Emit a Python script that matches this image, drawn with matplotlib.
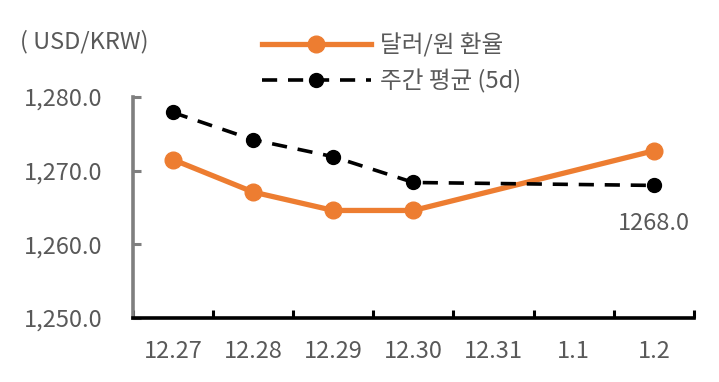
import numpy as np
import matplotlib.pyplot as plt

plt.rcParams['font.family'] = ['Noto Sans CJK KR', 'DejaVu Sans']
plt.rcParams['font.weight'] = 'light'

# 데이터
dates = ['12.27', '12.28', '12.29', '12.30', '12.31', '1.1', '1.2']
fx_rate = [1271.5, 1267.1, 1264.6, 1264.6, None, None, 1272.7]
avg_5d = [1277.9, 1274.2, 1271.9, 1268.4, None, None, 1268.0]
last_label = '1268.0'

text_color = '#595959'
orange = '#ED7D31'
fs = 17


def valid(vals):
    idx = [i for i, v in enumerate(vals) if v is not None]
    return np.array(idx), np.array([vals[i] for i in idx])


fig = plt.figure(figsize=(7.19, 3.82), dpi=100)
ax = fig.add_axes([0.185, 0.1675, 0.78, 0.5785])

x1, y1 = valid(fx_rate)
x2, y2 = valid(avg_5d)
ax.plot(x1, y1, color=orange, lw=3.8, marker='o', markersize=12,
        label='달러/원 환율', zorder=3)
ax.plot(x2, y2, color='black', lw=2.6, linestyle=(0, (4.2, 3.0)), marker='o',
        markersize=10, label='주간 평균 (5d)', zorder=4)

ax.text(x2[-1], y2[-1] - 3.6, last_label, ha='center', va='top',
        fontsize=fs, color=text_color)

ax.set_xlim(-0.5, 6.5)
ax.set_ylim(1250, 1280)
ax.set_yticks([1250, 1260, 1270, 1280])
ax.set_yticklabels(['{:,.1f}'.format(v) for v in [1250, 1260, 1270, 1280]])
ax.set_xticks(range(len(dates)))
ax.set_xticklabels(dates)
ax.set_xticks(np.arange(-0.5, 7, 1), minor=True)

ax.tick_params(axis='x', which='major', length=0, pad=16, labelsize=fs,
               labelcolor=text_color)
ax.tick_params(axis='x', which='minor', direction='in', length=6, width=2.2,
               color='black')
ax.tick_params(axis='y', direction='in', length=6, width=2.2, color='#7F7F7F',
               pad=22, labelsize=fs, labelcolor=text_color)

for s in ['top', 'right']:
    ax.spines[s].set_visible(False)
ax.spines['bottom'].set_color('black')
ax.spines['bottom'].set_linewidth(2.6)
ax.spines['left'].set_color('#7F7F7F')
ax.spines['left'].set_linewidth(2.6)

fig.text(0.028, 0.89, '( USD/KRW)', fontsize=fs, color=text_color, va='center')

leg = fig.legend(loc='center left', bbox_to_anchor=(0.335, 0.835),
                 frameon=False, fontsize=fs, handlelength=4.6,
                 handletextpad=0.4, labelspacing=0.5, labelcolor=text_color)

fig.savefig('out.png', dpi=100)
